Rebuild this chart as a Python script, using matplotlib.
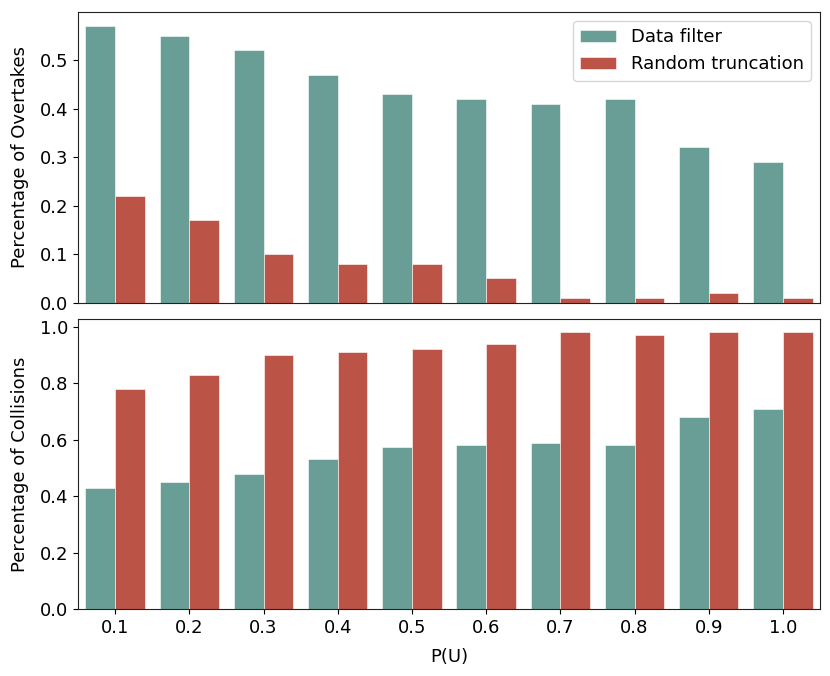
import numpy as np
import matplotlib.pyplot as plt

# ─── DATA ────────────────────────────────────────────────────────────────────

p_u = ["0.1", "0.2", "0.3", "0.4", "0.5", "0.6", "0.7", "0.8", "0.9", "1.0"]

overtakes_filter = [0.57, 0.55, 0.52, 0.47, 0.43, 0.42, 0.41, 0.42, 0.32, 0.29]
overtakes_random = [0.22, 0.17, 0.10, 0.08, 0.08, 0.05, 0.01, 0.01, 0.02, 0.01]

collisions_filter = [0.43, 0.45, 0.48, 0.53, 0.575, 0.58, 0.59, 0.58, 0.68, 0.71]
collisions_random = [0.78, 0.83, 0.90, 0.91, 0.92, 0.94, 0.98, 0.97, 0.98, 0.98]

TEAL = "#689e95"
RED = "#bb5346"
FS = 13

# ─── PLOT ────────────────────────────────────────────────────────────────────

fig, (ax1, ax2) = plt.subplots(2, 1, figsize=(8.3, 6.76), dpi=100, sharex=True)
fig.subplots_adjust(left=0.094, right=0.988, top=0.982, bottom=0.099, hspace=0.055)

x = np.arange(len(p_u))
w = 0.4


def draw(ax, a, b, ylabel):
    ax.bar(x - w / 2, a, w, color=TEAL, edgecolor="white", linewidth=0.4, label="Data filter")
    ax.bar(x + w / 2, b, w, color=RED, edgecolor="white", linewidth=0.4, label="Random truncation")
    ax.set_ylabel(ylabel, fontsize=FS, labelpad=8)
    ax.set_xlim(-0.5, len(p_u) - 0.5)
    ax.tick_params(labelsize=FS)
    for s in ax.spines.values():
        s.set_edgecolor("#222222")


draw(ax1, overtakes_filter, overtakes_random, "Percentage of Overtakes")
draw(ax2, collisions_filter, collisions_random, "Percentage of Collisions")

ax1.set_ylim(0, 0.5985)
ax1.set_yticks([0.0, 0.1, 0.2, 0.3, 0.4, 0.5])
ax1.tick_params(axis="x", length=0)
ax1.legend(loc="upper right", fontsize=FS)

ax2.set_ylim(0, 1.029)
ax2.set_yticks([0.0, 0.2, 0.4, 0.6, 0.8, 1.0])
ax2.set_xticks(x)
ax2.set_xticklabels(p_u)
ax2.set_xlabel("P(U)", fontsize=FS, labelpad=8)

plt.savefig("out.png", dpi=100)
